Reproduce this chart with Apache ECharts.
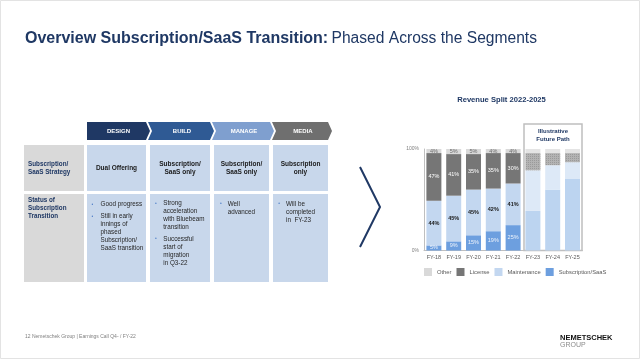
<!DOCTYPE html>
<html><head><meta charset="utf-8">
<script src="https://cdn.jsdelivr.net/npm/echarts@6/dist/echarts.min.js"></script>
<style>html,body{margin:0;padding:0;background:#fff}#c{width:640px;height:359px}</style>
</head><body><div id="c"></div>
<script>
// ---- data ----
const categories = ['FY-18','FY-19','FY-20','FY-21','FY-22','FY-23','FY-24','FY-25'];
const subscription = [5, 9, 15, 19, 25, 39, 60, 71];
const maintenance  = [44, 45, 45, 42, 41, 40, 24, 16];
const license      = [47, 41, 35, 35, 30, 17, 12, 9];
const other        = [4, 5, 5, 4, 4, 4, 4, 4];
const yTicks = [0, 100];
const actualCount = 5; // FY-18..FY-22 actual, rest illustrative

const segments = ['DESIGN','BUILD','MANAGE','MEDIA'];
const strategyRow = ['Dual Offering','Subscription/\nSaaS only','Subscription/\nSaaS only','Subscription\nonly'];

const FONT = "'Liberation Sans', Arial, sans-serif";
const NAVY = '#1f3864';

const colors = {
  sub: '#6d9fdf', maint: '#c3d7f0', lic: '#767676', oth: '#d9d9d9',
  fsub: '#bcd4f0', fmaint: '#dde9f7', flic: '#b3b3b3', foth: '#e4e4e4'
};

function items(arr, fut, extra) {
  return arr.map((v, i) => i >= actualCount
    ? {value: v, itemStyle: Object.assign({color: fut}, extra || {})}
    : {value: v});
}
function lbl(color, weight) {
  return {show: true, position: 'inside', fontSize: 5.5, fontFamily: FONT, color: color,
    fontWeight: weight || 'normal',
    formatter: p => p.dataIndex < actualCount ? p.value + '%' : ''};
}

const g = [];
function T(x, y, text, o) {
  o = o || {};
  g.push({type: 'text', x: x, y: y, silent: true, z: 10, style: {
    text: text, fontSize: o.size || 6.5, fontWeight: o.weight || 'normal', fontFamily: FONT,
    fill: o.color || '#262626', align: o.align || 'left', verticalAlign: o.va || 'middle',
    lineHeight: o.lh || 8 }});
}
function R(x, y, w, h, fill, stroke, lw) {
  g.push({type: 'rect', silent: true, shape: {x: x, y: y, width: w, height: h},
    style: {fill: fill || 'none', stroke: stroke || 'none', lineWidth: lw || 0}});
}
function P(points, fill) {
  g.push({type: 'polygon', silent: true, shape: {points: points}, style: {fill: fill}});
}

// slide frame
R(0.5, 0.5, 639, 358, 'none', '#e3e3e3', 1);

// title
g.push({type: 'text', x: 25, y: 39, silent: true, style: {
  text: '{b|Overview Subscription/SaaS Transition:} {r|Phased Across the Segments}',
  verticalAlign: 'middle', fontFamily: FONT,
  rich: {b: {fontSize: 16, fontWeight: 'bold', fill: NAVY, fontFamily: FONT},
         r: {fontSize: 15.6, fontWeight: 'normal', fill: NAVY, fontFamily: FONT}}}});

// chevrons
const chev = [
  {x0: 87, x1: 146, notch: false, c: '#1f3864'},
  {x0: 148, x1: 210, notch: true, c: '#2f5a94'},
  {x0: 212, x1: 270, notch: true, c: '#7f9fcf'},
  {x0: 272, x1: 328, notch: true, c: '#6f6f6f'}
];
const cy0 = 122, cy1 = 140, cym = 131, d = 4;
chev.forEach((c, i) => {
  const pts = [[c.x0, cy0], [c.x1, cy0], [c.x1 + d, cym], [c.x1, cy1], [c.x0, cy1]];
  if (c.notch) pts.push([c.x0 + d, cym]);
  P(pts, c.c);
  T((c.x0 + c.x1 + d) / 2 + (c.notch ? 1 : 0), cym, segments[i], {size: 6, weight: 'bold', color: '#fff', align: 'center'});
});

// table cells
const cols = [[87, 146], [150, 210], [214, 269], [273, 328]];
const CELL = '#c8d7eb';
R(24, 145, 60, 46, '#d9d9d9');
R(24, 194, 60, 88, '#d9d9d9');
cols.forEach(c => { R(c[0], 145, c[1] - c[0], 46, CELL); R(c[0], 194, c[1] - c[0], 88, CELL); });

T(28, 160, 'Subscription/\nSaaS Strategy', {size: 6.3, weight: 'bold', color: NAVY, va: 'top', lh: 8.3});
T(28, 196, 'Status of\nSubscription\nTransition', {size: 6.3, weight: 'bold', color: NAVY, va: 'top', lh: 8.3});

// row 1 contents
T(116.5, 168.3, strategyRow[0], {size: 6.5, weight: 'bold', align: 'center', color: '#1a1a1a'});
T(180, 168.3, strategyRow[1], {size: 6.5, weight: 'bold', align: 'center', color: '#1a1a1a'});
T(241.5, 168.3, strategyRow[2], {size: 6.5, weight: 'bold', align: 'center', color: '#1a1a1a'});
T(300.5, 168.3, strategyRow[3], {size: 6.5, weight: 'bold', align: 'center', color: '#1a1a1a'});

// row 2 bullets
const BUL = '#4f7fc8';
function bullet(bx, tx, y, text) {
  T(bx, y, '•', {size: 5, color: BUL});
  T(tx, y - 4, text, {size: 6.3, va: 'top', lh: 8, color: '#262626'});
}
bullet(91.5, 100.5, 204.3, 'Good progress');
bullet(91.5, 100.5, 216.7, 'Still in early\ninnings of\nphased\nSubscription/\nSaaS transition');
bullet(155, 163.3, 203.3, 'Strong\nacceleration\nwith Bluebeam\ntransition');
bullet(155, 163.3, 239, 'Successful\nstart of\nmigration\nin Q3-22');
bullet(220, 227.7, 204, 'Well\nadvanced');
bullet(278.3, 286, 204, 'Will be\ncompleted\nin  FY-23');

// big chevron arrow
g.push({type: 'polyline', silent: true, shape: {points: [[360, 167], [380, 207], [360, 247]]},
  style: {stroke: NAVY, lineWidth: 2, fill: 'none'}});

// illustrative box
R(524, 124, 58, 126.5, 'none', '#bfbfbf', 1.5);
T(553, 128, 'Illustrative\nFuture Path', {size: 6, weight: 'bold', color: NAVY, align: 'center', va: 'top', lh: 7.5});

// chart title
T(501.5, 100, 'Revenue Split 2022-2025', {size: 7.6, weight: 'bold', color: NAVY, align: 'center'});

// footer
T(25, 337, '12 Nemetschek Group | Earnings Call Q4- / FY-22', {size: 5, color: '#7f7f7f'});
T(560, 338, 'NEMETSCHEK', {size: 7.5, weight: 'bold', color: '#111'});
T(560, 345.5, 'GROUP', {size: 7, color: '#8c8c8c'});

const chart = echarts.init(document.getElementById('c'), null, {renderer: 'canvas'});
chart.setOption({
  animation: false,
  backgroundColor: '#fff',
  textStyle: {fontFamily: FONT},
  grid: {left: 424, right: 57.6, top: 149, bottom: 108.5, containLabel: false},
  legend: {
    data: ['Other', 'License', 'Maintenance', 'Subscription/SaaS'],
    left: 424, top: 268, padding: 0, itemWidth: 8, itemHeight: 8, itemGap: 5, icon: 'rect',
    textStyle: {fontSize: 5.8, color: '#595959', fontFamily: FONT},
    selectedMode: false
  },
  xAxis: {
    type: 'category', data: categories,
    axisLine: {show: true, lineStyle: {color: '#bfbfbf', width: 1}},
    axisTick: {show: false},
    axisLabel: {fontSize: 5.5, color: '#595959', margin: 4, fontFamily: FONT}
  },
  yAxis: {
    type: 'value', min: yTicks[0], max: yTicks[1], interval: 100,
    axisLine: {show: true, lineStyle: {color: '#bfbfbf', width: 1}},
    axisTick: {show: false}, splitLine: {show: false},
    axisLabel: {fontSize: 5, color: '#7f7f7f', margin: 5, fontFamily: FONT, formatter: '{value}%'}
  },
  series: [
    {name: 'Subscription/SaaS', type: 'bar', stack: 't', barWidth: 15,
     itemStyle: {color: colors.sub}, data: items(subscription, colors.fsub), label: lbl('#eef3fb')},
    {name: 'Maintenance', type: 'bar', stack: 't', barWidth: 15,
     itemStyle: {color: colors.maint}, data: items(maintenance, colors.fmaint), label: lbl('#1a1a1a', 'bold')},
    {name: 'License', type: 'bar', stack: 't', barWidth: 15,
     itemStyle: {color: colors.lic}, data: items(license, colors.flic,
       {decal: {symbol: 'rect', symbolSize: 1, dashArrayX: [1, 1], dashArrayY: [1, 1], color: 'rgba(110,110,110,0.35)'}}),
     label: lbl('#ffffff')},
    {name: 'Other', type: 'bar', stack: 't', barWidth: 15,
     itemStyle: {color: colors.oth}, data: items(other, colors.foth), label: lbl('#6b6b6b')}
  ],
  graphic: g
});
</script></body></html>
